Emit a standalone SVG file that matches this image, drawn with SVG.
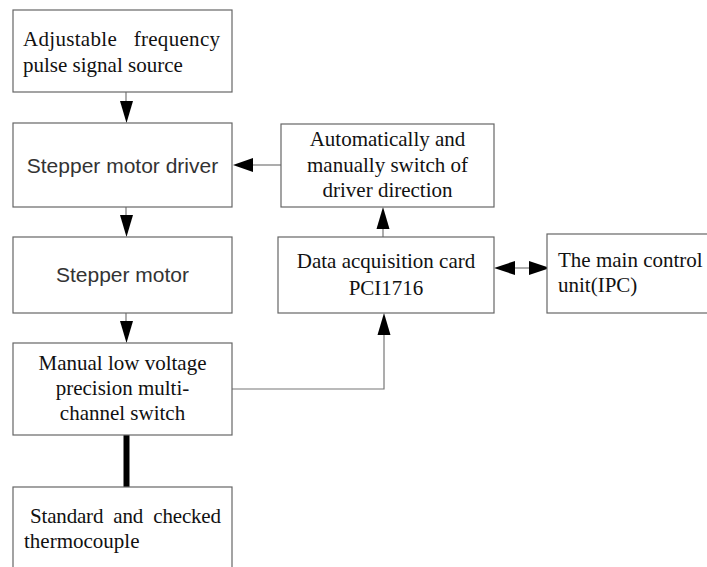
<svg xmlns="http://www.w3.org/2000/svg" width="707" height="567" viewBox="0 0 707 567">
<style>
.box{fill:#fff;stroke:#666;stroke-width:1.2}
.ln{fill:none;stroke:#777;stroke-width:1.2}
.ah{fill:#000;stroke:none}
.tr{font-family:"Liberation Serif","Times New Roman",serif;font-size:21px;fill:#111}
.sa{font-family:"Liberation Sans",Arial,sans-serif;font-size:21px;fill:#333}
.c{text-anchor:middle}
</style>
<rect width="707" height="567" fill="#fff"/>
<g id="connectors">
<line class="ln" x1="126" y1="92" x2="126" y2="104"/>
<polygon class="ah" points="120,101 133,101 126.5,123"/>
<line class="ln" x1="126" y1="207" x2="126" y2="218"/>
<polygon class="ah" points="120,215 133,215 126.5,237"/>
<line class="ln" x1="126" y1="313" x2="126" y2="324"/>
<polygon class="ah" points="120,321 133,321 126.5,343"/>
<line x1="126.5" y1="435" x2="126.5" y2="487" stroke="#000" stroke-width="6"/>
<line class="ln" x1="281" y1="165" x2="250" y2="165"/>
<polygon class="ah" points="253,158 253,172 233,165"/>
<line class="ln" x1="383" y1="237" x2="383" y2="226"/>
<polygon class="ah" points="376.5,229 389.5,229 383,207"/>
<polyline class="ln" points="232,389 384,389 384,332"/>
<polygon class="ah" points="377.5,335 390.5,335 384,313"/>
<line class="ln" x1="512" y1="268" x2="532" y2="268"/>
<polygon class="ah" points="515,261 515,275 494,268"/>
<polygon class="ah" points="529,261 529,275 550,268"/>
</g>
<g id="n1">
<rect class="box" x="13" y="10" width="219" height="82"/>
<text class="tr" x="23" y="46" textLength="197" lengthAdjust="spacing" xml:space="preserve">Adjustable   frequency</text>
<text class="tr" x="23" y="72">pulse signal source</text>
</g>
<g id="n2">
<rect class="box" x="13" y="123" width="219" height="84"/>
<text class="sa c" x="122.5" y="173">Stepper motor driver</text>
</g>
<g id="n3">
<rect class="box" x="13" y="237" width="219" height="76"/>
<text class="sa c" x="122.5" y="282">Stepper motor</text>
</g>
<g id="n4">
<rect class="box" x="13" y="343" width="219" height="92"/>
<text class="tr c" x="122.5" y="370">Manual low voltage</text>
<text class="tr c" x="122.5" y="395">precision multi-</text>
<text class="tr c" x="122.5" y="420">channel switch</text>
</g>
<g id="n5">
<rect class="box" x="13" y="487" width="219" height="90"/>
<text class="tr" x="30" y="523" textLength="191" lengthAdjust="spacing" xml:space="preserve">Standard  and  checked</text>
<text class="tr" x="24" y="548">thermocouple</text>
</g>
<g id="n6">
<rect class="box" x="281" y="124" width="213" height="83"/>
<text class="tr c" x="387.5" y="146">Automatically and</text>
<text class="tr c" x="387.5" y="172">manually switch of</text>
<text class="tr c" x="387.5" y="197">driver direction</text>
</g>
<g id="n7">
<rect class="box" x="278" y="237" width="216" height="76"/>
<text class="tr c" x="386" y="268">Data acquisition card</text>
<text class="tr c" x="386" y="295">PCI1716</text>
</g>
<g id="n8">
<rect class="box" x="547" y="234" width="170" height="79"/>
<text class="tr" x="558" y="267">The main control</text>
<text class="tr" x="558" y="292">unit(IPC)</text>
</g>
</svg>
